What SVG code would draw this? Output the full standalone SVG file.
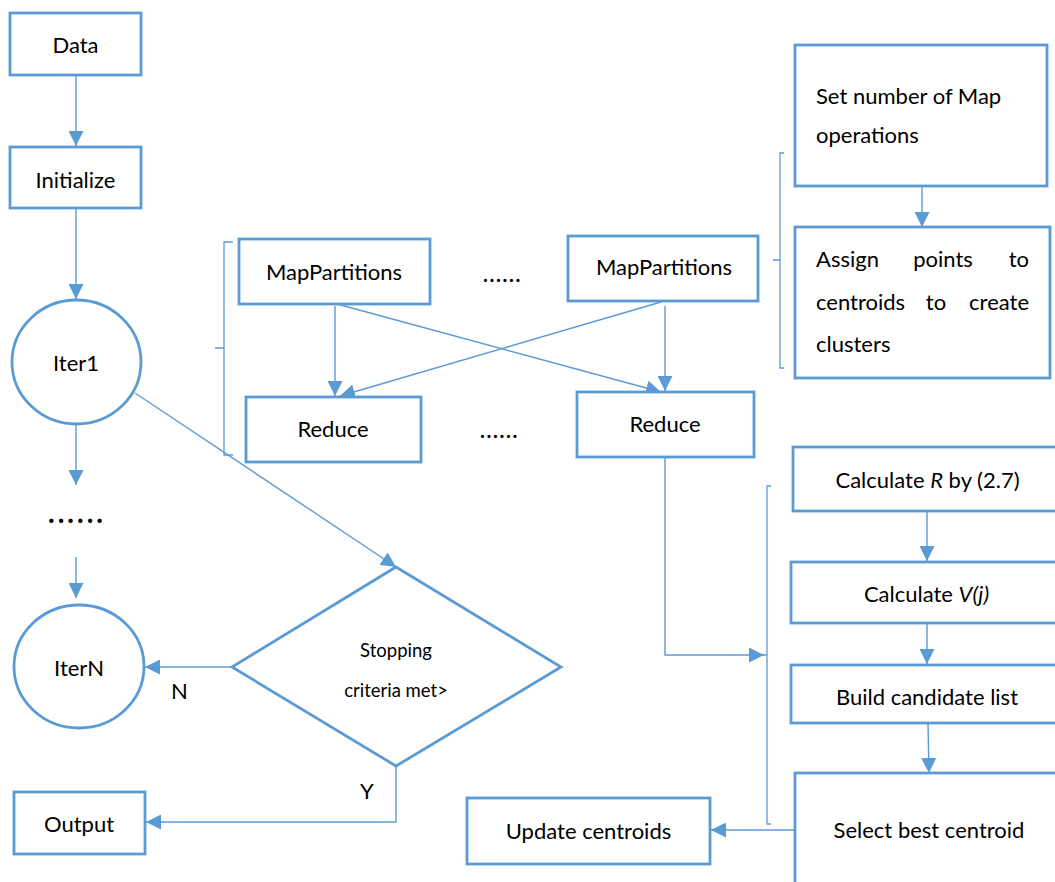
<svg xmlns="http://www.w3.org/2000/svg" width="1055" height="882" viewBox="0 0 1055 882">
<style>
.box{fill:#fff;stroke:#5B9BD5;stroke-width:2.8}
.ln{fill:none;stroke:#5B9BD5;stroke-width:1.4}
.br{fill:none;stroke:#5B9BD5;stroke-width:1.3}
text{font-family:Lato,"Open Sans","Liberation Sans",sans-serif;font-size:22px;fill:#000}
.c{text-anchor:middle}
.sm{font-size:18.5px}
.dots{font-weight:bold;font-size:28px}
.dots2{font-size:25px}
</style>
<defs>
<marker id="ah" markerUnits="userSpaceOnUse" markerWidth="15" markerHeight="15" refX="15" refY="7.5" orient="auto">
<path d="M0,0 L15,7.5 L0,15 z" fill="#5B9BD5"/>
</marker>
</defs>
<rect width="1055" height="882" fill="#fff"/>

<g id="connectors">
<line class="ln" x1="76" y1="75" x2="76" y2="146" marker-end="url(#ah)"/>
<line class="ln" x1="76" y1="208" x2="76" y2="299" marker-end="url(#ah)"/>
<line class="ln" x1="76" y1="424" x2="76" y2="485" marker-end="url(#ah)"/>
<line class="ln" x1="76" y1="557" x2="76" y2="598" marker-end="url(#ah)"/>
<line class="ln" x1="135" y1="393" x2="396" y2="567" marker-end="url(#ah)"/>
<line class="ln" x1="232" y1="667" x2="145" y2="667" marker-end="url(#ah)"/>
<polyline class="ln" points="396,766 396,822 146,822" marker-end="url(#ah)"/>
<line class="ln" x1="335" y1="306" x2="335" y2="396" marker-end="url(#ah)"/>
<line class="ln" x1="337" y1="304" x2="661" y2="392" marker-end="url(#ah)"/>
<line class="ln" x1="661" y1="302" x2="340" y2="396" marker-end="url(#ah)"/>
<line class="ln" x1="665" y1="306" x2="665" y2="391" marker-end="url(#ah)"/>
<line class="ln" x1="922" y1="184" x2="922" y2="227" marker-end="url(#ah)"/>
<polyline class="ln" points="665,458 665,655 764,655" marker-end="url(#ah)"/>
<line class="ln" x1="927" y1="511" x2="927" y2="561" marker-end="url(#ah)"/>
<line class="ln" x1="927" y1="623" x2="927" y2="664" marker-end="url(#ah)"/>
<line class="ln" x1="928" y1="723" x2="929" y2="773" marker-end="url(#ah)"/>
<line class="ln" x1="795" y1="830" x2="711" y2="830" marker-end="url(#ah)"/>
<path class="br" d="M233,242 H224 V455 H233 M224,348 H215"/>
<path class="br" d="M784,153 H780 V368 H784 M780,260 H773"/>
<path class="br" d="M771,486 H767 V824 H771 M767,655 H763"/>
</g>

<g id="data"><rect class="box" x="10" y="13" width="131" height="62"/><text class="c" x="75.5" y="53">Data</text></g>
<g id="initialize"><rect class="box" x="10" y="147" width="131" height="61"/><text class="c" x="75.5" y="188">Initialize</text></g>
<g id="iter1"><ellipse class="box" cx="76.5" cy="362" rx="64.5" ry="62"/><text class="c" x="76" y="371">Iter1</text></g>
<g id="dots-left"><text class="dots c" x="77" y="523" letter-spacing="3">......</text></g>
<g id="itern"><ellipse class="box" cx="79" cy="666.5" rx="65" ry="61.5"/><text class="c" x="79" y="676">IterN</text></g>
<g id="decision"><polygon class="box" points="396,567 561,667 396,766 232,667"/><text class="c sm" x="396" y="657">Stopping</text><text class="c sm" x="396" y="697">criteria met&gt;</text></g>
<g id="label-n"><text x="171" y="699">N</text></g>
<g id="label-y"><text x="360" y="799">Y</text></g>
<g id="output"><rect class="box" x="14" y="792" width="131" height="62"/><text class="c" x="79" y="832">Output</text></g>

<g id="map1"><rect class="box" x="239" y="239" width="191" height="65"/><text class="c" x="334" y="280">MapPartitions</text></g>
<g id="map-dots"><text class="c dots2" x="502" y="282" letter-spacing="0.6">......</text></g>
<g id="map2"><rect class="box" x="568" y="236" width="190" height="65"/><text class="c" x="664" y="275">MapPartitions</text></g>
<g id="reduce1"><rect class="box" x="246" y="397" width="175" height="65"/><text class="c" x="333" y="437">Reduce</text></g>
<g id="reduce-dots"><text class="c dots2" x="499" y="438" letter-spacing="0.6">......</text></g>
<g id="reduce2"><rect class="box" x="577" y="392" width="177" height="65"/><text class="c" x="665" y="432">Reduce</text></g>

<g id="setnum"><rect class="box" x="795" y="45" width="252" height="141"/><text x="816" y="104">Set number of Map</text><text x="816" y="143">operations</text></g>
<g id="assign"><rect class="box" x="795" y="227" width="255" height="151"/>
<text x="816" y="267">Assign</text><text class="c" x="943" y="267">points</text><text x="1029" y="267" text-anchor="end">to</text>
<text x="816" y="310">centroids</text><text class="c" x="936" y="310">to</text><text x="1029" y="310" text-anchor="end">create</text>
<text x="816" y="352">clusters</text></g>

<g id="calcr"><rect class="box" x="793" y="447" width="280" height="64"/><text class="c" x="927.5" y="488">Calculate <tspan font-style="italic">R</tspan> by (2.7)</text></g>
<g id="calcv"><rect class="box" x="791" y="562" width="280" height="61"/><text class="c" x="926.5" y="602">Calculate <tspan font-style="italic">V(j)</tspan></text></g>
<g id="build"><rect class="box" x="791" y="665" width="280" height="58"/><text class="c" x="927" y="705">Build candidate list</text></g>
<g id="select"><rect class="box" x="795" y="773" width="280" height="130"/><text class="c" x="929" y="838">Select best centroid</text></g>
<g id="update"><rect class="box" x="467" y="798" width="243" height="66"/><text class="c" x="588.5" y="839">Update centroids</text></g>
</svg>
